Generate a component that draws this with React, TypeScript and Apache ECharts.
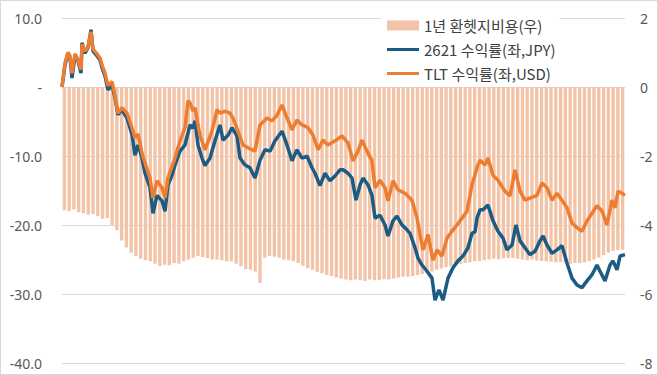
import { useEffect, useRef } from "react";
import * as echarts from "echarts";

// 1년 환헷지비용 (right axis, %), one bar per period
const hedgeCost = [
  -3.57, -3.6, -3.55, -3.63, -3.66, -3.7, -3.68, -3.74, -3.82, -3.8,
  -4.0, -4.15, -4.45, -4.65, -4.8, -4.9, -4.98, -5.02, -5.05, -5.12,
  -5.19, -5.15, -5.17, -5.1, -5.12, -5.05, -5.0, -4.95, -4.9, -4.93,
  -4.96, -5.0, -5.0, -5.02, -5.05, -5.05, -5.12, -5.2, -5.28, -5.3,
  -5.35, -5.68, -4.95, -4.9, -4.92, -4.95, -5.0, -5.02, -5.05, -5.1,
  -5.18, -5.25, -5.3, -5.36, -5.4, -5.45, -5.48, -5.52, -5.55, -5.58,
  -5.6, -5.58, -5.6, -5.62, -5.58, -5.6, -5.59, -5.57, -5.58, -5.55,
  -5.52, -5.5, -5.5, -5.48, -5.45, -5.42, -5.38, -5.35, -5.3, -5.26,
  -5.22, -5.2, -5.16, -5.12, -5.1, -5.08, -5.05, -5.04, -5.02, -5.0,
  -4.98, -5.0, -4.97, -4.96, -4.96, -4.98, -5.0, -5.02, -5.0, -5.03,
  -5.04, -5.05, -5.06, -5.08, -5.07, -5.1, -5.12, -5.1, -5.1, -5.08,
  -5.05, -5.0, -4.95, -4.88, -4.8, -4.75, -4.73, -4.72,
];
const periods = hedgeCost.map((_, i) => `P${i + 1}`);

// 2621 수익률 (left axis, %), trading-day index and value
const days2621 = [
  0, 3, 6, 8, 10, 13, 16, 19, 20, 23, 26, 29, 31, 35, 38, 40, 43, 46, 50, 53,
  56, 60, 65, 70, 73, 76, 80, 83, 88, 91, 95, 100, 103, 106, 110, 113, 118, 123, 128, 131,
  133, 136, 140, 143, 148, 153, 158, 161, 166, 170, 175, 178, 183, 188, 193, 198, 203, 208, 213, 220,
  225, 230, 235, 240, 245, 250, 253, 258, 263, 268, 273, 278, 281, 286, 290, 294, 298, 301, 306, 310,
  313, 318, 323, 326, 331, 335, 340, 345, 348, 353, 356, 360, 365, 370, 373, 377, 381, 386, 391, 396,
  401, 406, 410, 413, 415, 418, 421, 426, 431, 436, 441, 445, 450, 454, 458, 463, 468, 473, 478, 481,
  485, 490, 495, 500, 505, 510, 515, 520, 525, 530, 535, 538, 543, 548, 551, 555, 558, 563,
];
const ret2621 = [
  0, 3.2, 4.9, 4.2, 1.3, 4.5, 3.8, 2.0, 6.4, 4.9, 5.7, 8.3, 5.2, 4.5, 3.9, 2.8, 1.6, -0.4, 0.3, -1.6,
  -4.0, -3.3, -4.5, -6.9, -9.9, -8.4, -10.3, -12.5, -14.6, -18.3, -15.7, -16.5, -18.0, -14.2, -12.8, -11.3, -9.3, -8.4, -5.5, -6.0,
  -4.9, -8.4, -10.3, -11.4, -10.3, -7.8, -5.5, -7.7, -7.0, -5.9, -7.1, -10.3, -11.3, -11.7, -13.2, -10.6, -9.1, -9.3, -7.8, -6.4,
  -8.4, -10.7, -9.1, -10.3, -10.0, -11.7, -12.5, -14.3, -12.5, -13.6, -12.9, -12.0, -12.0, -12.5, -13.2, -16.4, -14.2, -13.2, -14.2, -15.7,
  -19.0, -18.6, -20.0, -21.6, -19.4, -18.7, -20.0, -20.7, -21.2, -23.3, -24.8, -25.8, -26.7, -27.7, -30.9, -29.4, -30.9, -27.7, -26.2, -25.2,
  -24.5, -23.3, -21.2, -21.0, -19.0, -17.8, -17.8, -17.1, -19.4, -20.9, -21.9, -23.6, -22.9, -20.0, -22.3, -23.3, -24.3, -23.8, -22.3, -21.6,
  -22.9, -24.1, -23.6, -23.0, -25.5, -27.7, -28.7, -29.1, -28.1, -27.2, -25.8, -26.7, -28.1, -25.8, -25.2, -26.5, -24.5, -24.3,
];

// TLT 수익률 (left axis, %)
const daysTLT = [
  0, 3, 6, 8, 10, 13, 16, 19, 20, 23, 26, 29, 31, 35, 38, 40, 43, 46, 50, 53,
  56, 60, 65, 70, 73, 76, 80, 83, 88, 91, 95, 100, 103, 106, 110, 113, 118, 123, 126, 128,
  131, 133, 136, 138, 143, 150, 155, 158, 163, 168, 171, 176, 181, 186, 193, 198, 205, 210, 215, 220,
  225, 230, 235, 240, 246, 251, 256, 261, 266, 273, 280, 286, 291, 296, 300, 305, 310, 313, 318, 323,
  326, 331, 336, 343, 350, 355, 358, 361, 366, 371, 375, 380, 385, 390, 395, 400, 405, 410, 415, 418,
  423, 426, 431, 436, 443, 448, 453, 458, 463, 468, 475, 480, 485, 490, 495, 500, 505, 510, 515, 520,
  525, 530, 535, 540, 545, 550, 553, 556, 560, 563,
];
const retTLT = [
  0, 3.5, 5.0, 4.5, 2.0, 4.8, 4.0, 2.5, 6.2, 5.2, 5.8, 8.0, 5.5, 4.8, 4.2, 3.2, 2.0, 0.2, 0.8, -1.3,
  -3.8, -3.0, -3.8, -5.9, -7.4, -6.8, -9.6, -11.0, -13.2, -16.1, -13.6, -14.6, -16.1, -13.2, -11.5, -10.3, -7.8, -5.9, -2.0, -2.3,
  -3.5, -3.0, -5.5, -7.0, -9.1, -6.4, -3.3, -3.8, -3.5, -3.8, -4.5, -6.4, -8.4, -8.8, -9.3, -5.5, -4.5, -4.9, -4.1, -2.6,
  -4.5, -6.2, -4.8, -5.5, -5.9, -7.0, -9.1, -7.7, -8.4, -7.8, -7.1, -8.1, -10.7, -9.3, -7.7, -9.3, -10.7, -14.6, -13.5, -14.6,
  -16.5, -13.6, -14.9, -15.4, -16.4, -19.0, -21.4, -23.6, -21.4, -25.1, -23.6, -24.5, -21.9, -20.9, -20.0, -19.0, -18.0, -14.2, -11.7, -10.6,
  -11.3, -10.3, -12.8, -13.5, -15.1, -15.8, -12.0, -15.1, -16.4, -16.1, -15.7, -13.9, -14.6, -16.4, -15.4, -16.4, -17.5, -19.7, -20.4, -20.9,
  -19.4, -18.3, -17.2, -18.0, -20.0, -16.4, -17.5, -15.1, -15.4, -15.7,
];

const NAME_BAR = "1년 환헷지비용(우)";
const NAME_2621 = "2621 수익률(좌,JPY)";
const NAME_TLT = "TLT 수익률(좌,USD)";

const LAST_DAY = 563;

// legend line icon: thin band in the middle of the icon box, with tiny corner dots to keep the box size
const LINE_ICON = "path://M0,0L0.01,0L0.01,0.01Z M0,3.6L32,3.6L32,6.4L0,6.4Z M31.99,9.99L32,9.99L32,10Z";

export default function App() {
  const ref = useRef<HTMLDivElement>(null);
  useEffect(() => {
    if (!ref.current) return;
    const chart = echarts.init(ref.current, undefined, { renderer: "svg" });
    const axisFont = { fontFamily: "'Noto Sans', sans-serif", fontSize: 14, color: "#595959" };
    chart.setOption({
      animation: false,
      backgroundColor: "#ffffff",
      grid: { left: 61, right: 32, top: 17, bottom: 11, containLabel: false },
      legend: {
        orient: "vertical",
        left: 380,
        top: 12,
        backgroundColor: "#ffffff",
        padding: [4, 4, 4, 6],
        itemWidth: 32,
        itemHeight: 10,
        itemGap: 7,
        textStyle: { fontFamily: "'Noto Sans CJK KR', sans-serif", fontSize: 15, color: "#404040", lineHeight: 17 },
        data: [
          { name: NAME_BAR, icon: "rect" },
          { name: NAME_2621, icon: LINE_ICON },
          { name: NAME_TLT, icon: LINE_ICON },
        ],
      },
      xAxis: [
        { type: "category", data: periods, show: false, boundaryGap: true, gridIndex: 0 },
        { type: "value", min: 0, max: LAST_DAY, show: false, gridIndex: 0 },
      ],
      yAxis: [
        {
          type: "value",
          min: -40,
          max: 10,
          interval: 10,
          position: "left",
          axisLine: { show: false },
          axisTick: { show: false },
          splitLine: { lineStyle: { color: "#d9d9d9", width: 1 } },
          axisLabel: {
            ...axisFont,
            margin: 20,
            formatter: (v: number) => (v === 0 ? "-" : v.toFixed(1)),
          },
        },
        {
          type: "value",
          min: -8,
          max: 2,
          interval: 2,
          position: "right",
          axisLine: { show: false },
          axisTick: { show: false },
          splitLine: { show: false },
          axisLabel: { ...axisFont, margin: 15, formatter: (v: number) => `${v}` },
        },
      ],
      series: [
        {
          name: NAME_BAR,
          type: "bar",
          xAxisIndex: 0,
          yAxisIndex: 1,
          barCategoryGap: "30%",
          itemStyle: { color: "#f3c3a7" },
          data: hedgeCost,
          z: 1,
        },
        {
          name: NAME_2621,
          type: "line",
          xAxisIndex: 1,
          yAxisIndex: 0,
          symbol: "none",
          showSymbol: false,
          lineStyle: { color: "#1b5c84", width: 3.5 },
          itemStyle: { color: "#1b5c84" },
          data: days2621.map((d, i) => [d, ret2621[i]]),
          z: 3,
        },
        {
          name: NAME_TLT,
          type: "line",
          xAxisIndex: 1,
          yAxisIndex: 0,
          symbol: "none",
          showSymbol: false,
          lineStyle: { color: "#ed7d31", width: 3.5 },
          itemStyle: { color: "#ed7d31" },
          data: daysTLT.map((d, i) => [d, retTLT[i]]),
          z: 4,
        },
      ],
    });
    return () => chart.dispose();
  }, []);
  return (
    <div
      style={{
        position: "absolute",
        left: 0,
        top: 0,
        width: 658,
        height: 375,
        boxSizing: "border-box",
        border: "1px solid #d9d9d9",
        background: "#fff",
      }}
    >
      <div ref={ref} style={{ width: 656, height: 373 }} />
    </div>
  );
}
